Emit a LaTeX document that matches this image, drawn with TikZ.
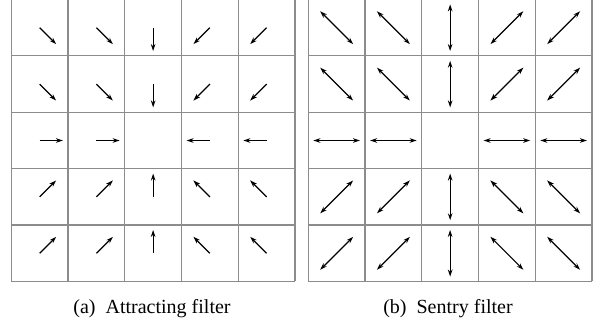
\documentclass[tikz,border=0pt]{standalone}
\usepackage{fontspec}
\setmainfont{Liberation Serif}
\usetikzlibrary{arrows.meta}
\begin{document}
\begin{tikzpicture}[x=1pt,y=1pt,
  gridline/.style={draw=black!45, line width=1.2pt},
  vec/.style={line width=1.2pt, -{Stealth[length=7pt,width=4.6pt]}},
  dvec/.style={line width=1.2pt, {Stealth[length=7pt,width=4.6pt]}-{Stealth[length=7pt,width=4.6pt]}},
  captext/.style={anchor=base, font=\fontsize{20}{24}\selectfont, inner sep=0pt}]
\useasboundingbox (0,0) rectangle (597,323);
\def\cw{56.74}
\def\ch{56.4}
\def\top{323.5}
% grids
\foreach \xo in {11.3,308.3}{
  \foreach \i in {0,...,5}{
    \draw[gridline] (\xo+\i*\cw, \top) -- (\xo+\i*\cw, \top-5*\ch);
    \draw[gridline] (\xo, \top-\i*\ch) -- (\xo+5*\cw, \top-\i*\ch);
  }
}
% vectors
\foreach \c in {0,...,4}{
  \foreach \r in {0,...,4}{
    \ifnum\numexpr\c*10+\r\relax=22\relax\else
      \pgfmathsetmacro{\dx}{sign(2-\c)}
      \pgfmathsetmacro{\dy}{sign(\r-2)}
      \pgfmathsetmacro{\L}{23.3/sqrt(\dx*\dx+\dy*\dy)}
      \pgfmathsetmacro{\cxa}{11.3+(\c+0.5)*\cw}
      \pgfmathsetmacro{\cxb}{308.3+(\c+0.5)*\cw}
      \pgfmathsetmacro{\cy}{\top-(\r+0.5)*\ch}
      \draw[vec] (\cxa,\cy) -- ++(\dx*\L,\dy*\L);
      \draw[dvec] (\cxb-\dx*\L,\cy-\dy*\L) -- (\cxb+\dx*\L,\cy+\dy*\L);
    \fi
  }
}
\node[captext] (capa) at (152,9.7) {(a)\hspace{0.5em}Attracting filter};
\node[captext] (capb) at (448,9.7) {(b)\hspace{0.5em}Sentry filter};
\end{tikzpicture}
\end{document}
